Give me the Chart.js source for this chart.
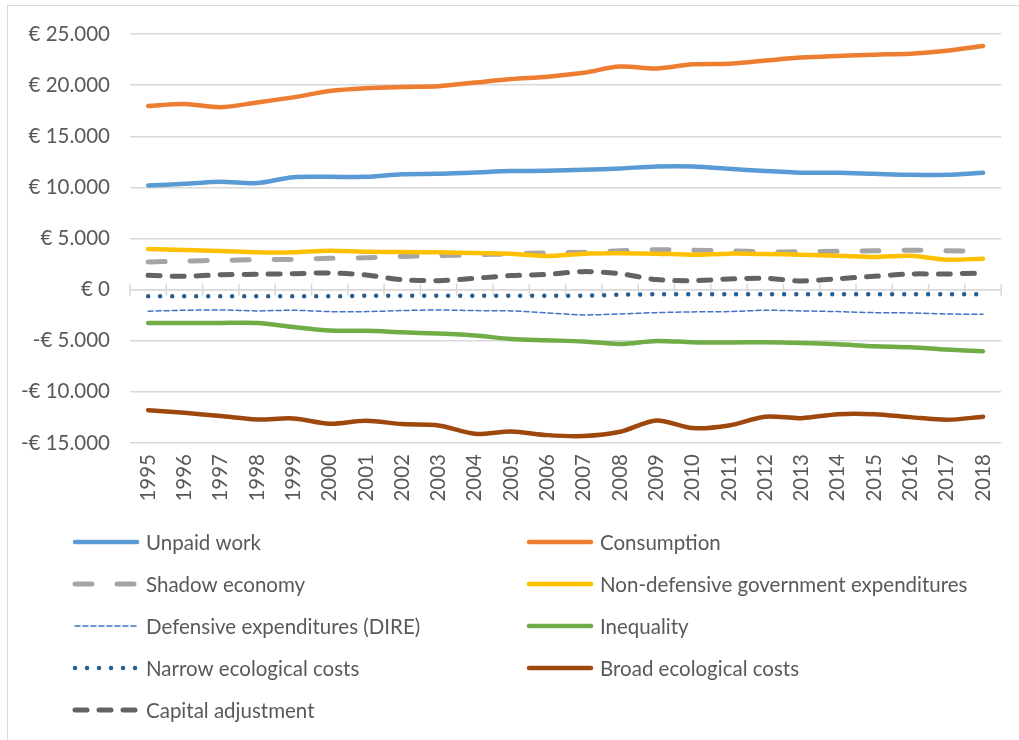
<!DOCTYPE html>
<html lang="en">
<head>
<meta charset="UTF-8">
<title>Components per capita 1995-2018</title>
<script src="https://cdn.jsdelivr.net/npm/chart.js"></script>
<style>
  body { margin: 0; background: #fff; overflow: hidden; }
  .wrap { position: relative; width: 1019px; height: 740px; }
  .frame {
    position: absolute; left: 7px; top: 5px; width: 1040px; height: 760px;
    border-left: 1.5px solid #d9d9d9; border-top: 1.5px solid #d9d9d9;
  }
  canvas { position: absolute; left: 0; top: 0; }
</style>
</head>
<body>
<div class="wrap">
  <div class="frame"></div>
  <canvas id="chart" width="1019" height="740"></canvas>
</div>
<script>
// years on the category axis
const years = ['1995','1996','1997','1998','1999','2000','2001','2002','2003','2004','2005','2006',
               '2007','2008','2009','2010','2011','2012','2013','2014','2015','2016','2017','2018'];

// euro per capita
const unpaidWork    = [10190,10350,10550,10420,11000,11030,11030,11290,11330,11460,11590,11620,11720,11850,12040,12040,11820,11590,11430,11430,11330,11230,11230,11430];
const consumption   = [17970,18150,17840,18300,18800,19430,19700,19820,19900,20250,20600,20830,21220,21810,21620,22040,22100,22400,22690,22850,22980,23080,23370,23830];
const shadowEconomy = [2700,2800,2860,2930,2960,3060,3120,3250,3320,3400,3500,3600,3650,3800,3900,3850,3800,3700,3700,3750,3800,3850,3800,3750];
const nonDefensive  = [3970,3870,3770,3650,3650,3810,3710,3680,3650,3580,3520,3290,3520,3550,3520,3420,3520,3480,3420,3320,3190,3320,2930,3030];
const defensive     = [-2110,-2020,-1990,-2080,-2020,-2150,-2150,-2050,-1990,-2050,-2080,-2280,-2470,-2380,-2250,-2180,-2150,-2020,-2080,-2150,-2250,-2280,-2380,-2410];
const inequality    = [-3260,-3260,-3260,-3260,-3650,-4000,-4030,-4170,-4300,-4490,-4820,-4950,-5080,-5310,-5020,-5140,-5170,-5140,-5210,-5340,-5530,-5630,-5860,-6020];
const narrowEco     = [-650,-650,-650,-650,-650,-650,-600,-600,-600,-600,-600,-600,-600,-500,-450,-450,-450,-450,-450,-450,-450,-450,-450,-450];
const broadEco      = [-11790,-12050,-12370,-12700,-12600,-13120,-12830,-13150,-13280,-14100,-13870,-14230,-14320,-13900,-12790,-13540,-13280,-12430,-12570,-12180,-12180,-12470,-12730,-12430];
const capitalAdj    = [1400,1300,1460,1500,1560,1630,1430,980,880,1110,1370,1500,1760,1560,980,880,1040,1110,850,1070,1300,1530,1530,1630];

const yTicks = { min: -15000, max: 25000, step: 5000 };

const FONT = 'Lato, "Open Sans", sans-serif';
const FONT_SIZE = 20.5;
const TEXT = '#595959';
const GRID = '#d9d9d9';

function euro(v) {
  const s = Math.abs(v).toString().replace(/\B(?=(\d{3})+(?!\d))/g, '.');
  return (v < 0 ? '-' : '') + '€ ' + s;
}

function line(label, data, color, width, dash) {
  return {
    label, data,
    borderColor: color,
    backgroundColor: color,
    borderWidth: width,
    borderDash: dash || [],
    borderCapStyle: 'round',
    borderJoinStyle: 'round',
    pointRadius: 0,
    tension: 0.3,
    fill: false
  };
}

const datasets = [
  line('Unpaid work', unpaidWork, '#5b9bd5', 4.5),
  line('Consumption', consumption, '#ed7d31', 4.5),
  line('Shadow economy', shadowEconomy, '#a5a5a5', 5, [17, 25]),
  line('Non-defensive government expenditures', nonDefensive, '#ffc000', 4.5),
  line('Defensive expenditures (DIRE)', defensive, '#4472c4', 1.5, [5, 3]),
  line('Inequality', inequality, '#70ad47', 4.5),
  line('Narrow ecological costs', narrowEco, '#255e91', 4.5, [0, 12]),
  line('Broad ecological costs', broadEco, '#9e480e', 4.5),
  line('Capital adjustment', capitalAdj, '#636363', 5, [12, 12])
];
// later series are painted over earlier ones
datasets.forEach((d, i) => { d.order = datasets.length - i; });

// horizontal axis through zero with tick marks between categories
const zeroAxis = {
  id: 'zeroAxis',
  beforeDatasetsDraw(chart) {
    const { ctx, chartArea } = chart;
    const y0 = chart.scales.y.getPixelForValue(0);
    const n = years.length;
    const w = (chartArea.right - chartArea.left) / n;
    ctx.save();
    ctx.strokeStyle = GRID;
    ctx.lineWidth = 1.5;
    ctx.beginPath();
    ctx.moveTo(chartArea.left, y0);
    ctx.lineTo(chartArea.right, y0);
    for (let i = 0; i <= n; i++) {
      const x = chartArea.left + i * w;
      ctx.moveTo(x, y0 - 6);
      ctx.lineTo(x, y0 + 6);
    }
    ctx.stroke();
    ctx.restore();
  }
};

// two-column legend under the x labels
const gridLegend = {
  id: 'gridLegend',
  afterDraw(chart) {
    const { ctx } = chart;
    ctx.save();
    ctx.font = FONT_SIZE + 'px ' + FONT;
    ctx.textBaseline = 'middle';
    chart.data.datasets.forEach((d, i) => {
      const x = i % 2 ? 527 : 73;
      const y = 542 + Math.floor(i / 2) * 42;
      ctx.strokeStyle = d.borderColor;
      ctx.lineWidth = d.borderWidth;
      ctx.lineCap = 'round';
      ctx.setLineDash(d.borderDash);
      ctx.beginPath();
      ctx.moveTo(x + 2, y);
      ctx.lineTo(x + 64, y);
      ctx.stroke();
      ctx.setLineDash([]);
      ctx.fillStyle = TEXT;
      ctx.fillText(d.label, x + 73, y + 1);
    });
    ctx.restore();
  }
};

new Chart(document.getElementById('chart'), {
  type: 'line',
  data: { labels: years, datasets },
  plugins: [zeroAxis, gridLegend],
  options: {
    responsive: false,
    animation: false,
    layout: { padding: { top: 34, right: 16, bottom: 220, left: 0 } },
    plugins: {
      legend: { display: false },
      tooltip: { enabled: false }
    },
    scales: {
      x: {
        offset: true,
        grid: { display: false, drawTicks: false },
        border: { display: false },
        ticks: {
          color: TEXT,
          font: { family: FONT, size: FONT_SIZE },
          minRotation: 90,
          maxRotation: 90,
          autoSkip: false,
          padding: 11
        },
        afterFit(scale) { scale.height = 77; }
      },
      y: {
        min: yTicks.min,
        max: yTicks.max,
        grid: { color: GRID, lineWidth: 1.5, drawTicks: false },
        border: { display: false },
        ticks: {
          stepSize: yTicks.step,
          color: TEXT,
          font: { family: FONT, size: FONT_SIZE },
          padding: 20,
          callback: v => euro(v)
        },
        afterFit(scale) { scale.width = 130; }
      }
    }
  }
});
</script>
</body>
</html>
